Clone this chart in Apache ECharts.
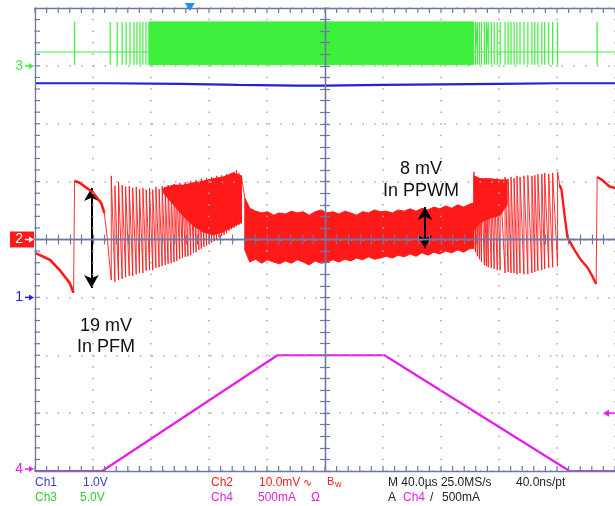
<!DOCTYPE html>
<html><head><meta charset="utf-8">
<script src="https://cdn.jsdelivr.net/npm/echarts@6/dist/echarts.min.js"></script>
<style>html,body{margin:0;padding:0;background:#fff}#c{width:615px;height:506px}</style>
</head><body><div id="c"></div>
<script>
// ---------- DATA (time in µs; Ch1/Ch3 in V; Ch2 in mV; Ch4 in mA) ----------
// Ch1 (blue, 1.0 V/div)
const ch1T = [-200, -150, -100, -60, -20, 0, 40, 80, 120, 160, 200];
const ch1V = [3.70, 3.70, 3.69, 3.67, 3.66, 3.66, 3.67, 3.68, 3.69, 3.70, 3.70];
// Ch4 (magenta, 500 mA/div) load current
const ch4T = [-200, -153.6, -32.8, 41.0, 168.6, 200];
const ch4I = [0, 0, 1000, 1000, 0, 0];
// Ch3 (green, 5.0 V/div) switch node
const ch3Levels = [1.2, 3.8, 0.1];            // idle, high, low
const ch3PulseT = [-172.7, -148.1, -143.3, -139.9, -137.2, -134.5, -131.7, -129.7, -127.6, -125.6, -123.5,
  103.8, 105.1, 106.5, 107.9, 109.9, 111.3, 112.6, 114.7, 116.7, 118.8, 120.8, 124.2, 126.3, 128.3, 130.4,
  132.4, 134.5, 137.2, 139.9, 142.7, 144.7, 146.8, 149.5, 151.5, 154.3, 157.0, 160.4, 187.7];
const ch3BurstT = [-121.5, 102.4];            // continuous switching
// Ch2 (red, 10.0 mV/div) output ripple
const redPreT = [-200, -189.8, -182.9, -176.1, -173.4];
const redPreV = [-2.3, -3.5, -5.3, -7.5, -9.2];
const redJumpT = [-172.7, -169.3, -160.4, -154.3, -152.2, -150.2, -148.8];
const redJumpV = [10.1, 9.8, 8.2, 6.3, 4.6, 0.3, -3.5];
const redLSpikeT = [-147.4, -144.9, -142.4, -139.9, -137.5, -135.0, -132.6, -130.2, -127.9, -125.6,
  -123.3, -121.0, -118.8, -116.6, -114.4, -112.3, -110.2, -108.2, -106.1, -104.1,
  -102.2, -100.2, -98.3, -96.4, -94.5, -92.6, -90.7, -88.9, -87.0, -85.3,
  -83.5, -81.7, -79.9, -78.2, -76.5, -74.7, -73.0, -71.3, -69.6, -67.9,
  -66.2, -64.5, -62.8, -61.1, -59.4, -57.7];
const redLSpikeTop = [11.0, 9.3, 9.9, 9.4, 9.1, 9.2, 8.9, 9.1, 8.7, 8.9,
  8.6, 8.9, 8.6, 9.1, 8.7, 9.2, 8.9, 9.4, 9.1, 9.6,
  9.2, 9.8, 9.4, 9.9, 9.6, 10.1, 9.8, 10.3, 9.9, 10.5,
  10.1, 10.6, 10.3, 10.8, 10.5, 11.0, 10.6, 11.1, 10.8, 11.3,
  11.0, 11.5, 11.7, 12.0, 11.5, 11.0];
const redLSpikeBot = [-7.0, -7.3, -7.0, -6.8, -6.5, -6.3, -6.3, -6.0, -5.8, -5.8,
  -5.4, -5.3, -5.3, -4.9, -4.8, -4.6, -4.4, -4.2, -4.1, -3.9,
  -3.7, -3.4, -3.2, -3.0, -2.9, -2.7, -2.3, -2.2, -1.8, -1.6,
  -1.3, -1.1, -0.8, -0.6, -0.3, -0.1, 0.3, 0.6, 0.8, 1.1,
  1.5, 1.8, 2.0, 2.3, 2.5, 2.7];
const redLDenseT = [-111.3, -104.4, -97.6, -90.8, -84.0, -77.2, -70.3, -63.5, -57.7];
const redLDenseHi = [8.9, 9.4, 9.4, 9.8, 10.1, 10.5, 10.8, 11.5, 11.0];
const redLDenseLo = [8.0, 6.0, 4.0, 2.4, 1.3, 0.8, 1.3, 2.2, 3.0];
const redPwmT = [-55.3, -51.9, -47.8, -43.7, -39.6, -35.5, -31.4, -27.3, -23.2, -19.1,
  -15.0, -10.9, -6.8, -2.7, 1.4, 5.5, 9.6, 13.7, 17.7, 21.8,
  25.9, 30.0, 34.1, 38.2, 42.3, 46.4, 50.5, 54.6, 58.7, 62.8,
  66.9, 71.0, 75.1, 79.2, 83.3, 87.4, 91.5, 95.6, 99.7, 102.4];
const redPwmHi = [7.2, 5.4, 4.9, 4.6, 4.8, 4.2, 4.6, 4.4, 4.9, 4.6,
  4.8, 4.2, 4.8, 5.1, 4.6, 4.8, 4.4, 4.9, 4.6, 4.2,
  4.8, 4.6, 5.1, 4.8, 4.9, 4.6, 5.1, 4.9, 5.3, 4.9,
  5.4, 5.1, 5.6, 5.3, 5.8, 5.4, 6.0, 5.6, 6.1, 6.3];
const redPwmLo = [-1.8, -3.9, -3.4, -4.1, -3.5, -3.9, -4.2, -3.7, -4.1, -3.5,
  -3.9, -4.4, -3.7, -4.1, -3.9, -3.5, -3.9, -3.4, -3.7, -3.2,
  -3.5, -3.0, -3.4, -3.2, -2.9, -3.2, -2.7, -3.0, -2.5, -2.9,
  -2.3, -2.7, -2.2, -2.5, -2.0, -2.3, -1.8, -2.2, -1.6, -1.5];
const redRSpikeT = [102.7, 103.8, 105.1, 106.5, 107.9, 109.9, 111.3, 112.6, 114.7, 116.7,
  118.8, 120.8, 124.2, 126.3, 128.3, 130.4, 132.4, 134.5, 137.2, 139.9,
  142.7, 144.7, 146.8, 149.5, 151.5, 154.3, 157.0, 160.4];
const redRSpikeTop = [11.7, 10.3, 10.6, 10.1, 10.5, 10.3, 10.6, 10.1, 10.5, 10.3,
  10.6, 10.3, 10.8, 10.5, 10.8, 10.6, 11.0, 10.8, 11.0, 11.1,
  11.0, 11.1, 11.3, 11.3, 11.5, 11.3, 11.5, 11.7];
const redRSpikeBot = [-1.8, -2.2, -2.9, -3.4, -3.9, -4.4, -4.6, -4.8, -4.9, -5.1,
  -5.3, -5.3, -5.8, -5.6, -5.8, -5.8, -6.0, -5.8, -6.0, -6.0,
  -5.8, -5.6, -5.4, -5.3, -5.1, -4.9, -4.8, -4.6];
const redRDenseT = [102.7, 107.2, 114.0, 120.8, 125.6];
const redRDenseHi = [11.0, 10.5, 10.5, 10.3, 10.3];
const redRDenseLo = [1.6, 3.0, 3.7, 4.2, 6.0];
const redTailT = [161.8, 163.1, 165.2, 167.2, 172.0, 176.1, 180.9, 184.3, 187.0];
const redTailV = [9.4, 8.6, 4.2, 0.4, -1.8, -3.4, -4.8, -6.3, -7.7];
const redNextT = [187.7, 191.1, 195.9, 200];
const redNextV = [10.8, 10.3, 9.2, 8.9];
// annotations: ripple measurement arrows [time, top mV, bottom mV]
const pfmArrow = [-161.1, 8.9, -8.4];
const pwmArrow = [68.9, 5.6, -1.5];
// trigger: Ch4 rising through 500 mA
const trigger = [-93.2, 500];
// scope read-out
const readRow1 = [['Ch1', '#3a3acc', 35], ['1.0V', '#3a3acc', 83], ['Ch2', '#ee2222', 211], ['10.0mV', '#ee2222', 259],
  ['M 40.0µs 25.0MS/s', '#222', 388], ['40.0ns/pt', '#222', 516]];
const readRow2 = [['Ch3', '#2ecc2e', 35], ['5.0V', '#2ecc2e', 80], ['Ch4', '#dd22dd', 211], ['500mA', '#dd22dd', 258],
  ['Ω', '#dd22dd', 311], ['A', '#222', 388], ['Ch4', '#dd22dd', 403], ['/', '#222', 430], ['500mA', '#222', 442]];

// ---------- build ----------
const zip = (a, b) => a.map((v, i) => [v, b[i]]);
const greenData = [[-200, ch3Levels[0]]];
ch3PulseT.forEach(t => greenData.push([t, ch3Levels[0]], [t, ch3Levels[1]], [t, ch3Levels[2]], [t, ch3Levels[0]]));
greenData.push([200, ch3Levels[0]]);

const redLeft = zip(redPreT, redPreV).concat(zip(redJumpT, redJumpV));
redLSpikeT.forEach((t, i) => redLeft.push([t, redLSpikeBot[i]], [t, redLSpikeTop[i]]));
redLeft.push([redPwmT[0], redPwmHi[0]]);
const redRight = [];
redRSpikeT.forEach((t, i) => redRight.push([t, redRSpikeBot[i]], [t, redRSpikeTop[i]]));
redRight.push(...zip(redTailT, redTailV), ...zip(redNextT, redNextV));

const RED = '#ff1a1a', GREEN = '#3cf03c', BLUE = '#2323cc', MAG = '#e61ee6';
const AX = '#6f77a3';
const Y_CH1 = 3, Y_CH2 = 4, Y_CH3 = 5, Y_CH4 = 6;

function band(ts, hi, lo, yIdx, color, z) {
  return {
    type: 'custom', xAxisIndex: 0, yAxisIndex: yIdx, z: z || 3, silent: true,
    data: [[ts[0], hi[0]]],
    renderItem: function (params, api) {
      const pts = [];
      for (let i = 0; i < ts.length; i++) pts.push(api.coord([ts[i], hi[i]]));
      for (let i = ts.length - 1; i >= 0; i--) pts.push(api.coord([ts[i], lo[i]]));
      return { type: 'polygon', shape: { points: pts }, style: { fill: color, stroke: color, lineWidth: 1 } };
    }
  };
}
function lineS(data, yIdx, color, width, z, opacity) {
  return { type: 'line', xAxisIndex: 0, yAxisIndex: yIdx, data: data, showSymbol: false, symbol: 'none',
    silent: true, z: z || 3, lineStyle: { color: color, width: width, opacity: opacity == null ? 1 : opacity } };
}
const tickStyle = { color: AX, width: 1.2 };
const dotX = { color: '#a8a8a8', width: 1.5, type: [1.5, 10.08], dashOffset: 0.75 };
const dotY = { color: '#a8a8a8', width: 1.5, type: [1.5, 10.22], dashOffset: 0.75 };
const X = { min: -200, max: 200, interval: 40 };
const Yd = { min: -4, max: 4, interval: 1 };
function centre(base, pos, inside) {
  return Object.assign({ type: 'value', position: pos, z: 10,
    axisLine: { show: true, onZero: true, onZeroAxisIndex: 0, lineStyle: { color: AX, width: 1.3 } },
    axisTick: { show: true, inside: inside, length: 5, lineStyle: tickStyle },
    minorTick: { show: true, splitNumber: 5, length: 5, lineStyle: tickStyle },
    axisLabel: { show: false }, splitLine: { show: false }, minorSplitLine: { show: false } }, base);
}
function border(base, pos, split, dot) {
  return Object.assign({ type: 'value', position: pos, z: 10,
    axisLine: { show: true, onZero: false, lineStyle: { color: AX, width: 1.3 } },
    axisTick: { show: false }, axisLabel: { show: false },
    splitLine: { show: split, lineStyle: dot } }, base);
}
const hid = (min, max) => ({ type: 'value', min: min, max: max, show: false, splitLine: { show: false } });

// border tick marks: one per minor division, placed through the division scales
const xTickVals = [], yTickVals = [];
for (let v = X.min; v <= X.max; v += X.interval / 5) xTickVals.push([v, 0]);
for (let v = Yd.min; v <= Yd.max; v += Yd.interval / 5) yTickVals.push([0, v]);
function tickSeries(vals, horiz) {
  return { type: 'custom', xAxisIndex: 0, yAxisIndex: 0, z: 10, silent: true, clip: false,
    data: vals,
    renderItem: function (params, api) {
      const v = api.value(horiz ? 0 : 1);
      const ch = [];
      if (horiz) {
        const pb = api.coord([v, Yd.min]), pt = api.coord([v, Yd.max]);
        ch.push({ type: 'line', shape: { x1: pb[0], y1: pb[1], x2: pb[0], y2: pb[1] - 5 }, style: { stroke: AX, lineWidth: 1.2 } });
        ch.push({ type: 'line', shape: { x1: pt[0], y1: pt[1], x2: pt[0], y2: pt[1] + 5 }, style: { stroke: AX, lineWidth: 1.2 } });
      } else {
        const pl = api.coord([X.min, v]);
        ch.push({ type: 'line', shape: { x1: pl[0], y1: pl[1], x2: pl[0] + 5, y2: pl[1] }, style: { stroke: AX, lineWidth: 1.2 } });
      }
      return { type: 'group', children: ch };
    } };
}

const option = {
  animation: false,
  backgroundColor: '#fff',
  grid: { left: 35, top: 8, right: -6, bottom: 35, containLabel: false },
  xAxis: [ border(X, 'bottom', true, dotX), border(X, 'top', false), centre(X, 'bottom', true), centre(X, 'bottom', false) ],
  yAxis: [ border(Yd, 'left', true, dotY), centre(Yd, 'left', true), centre(Yd, 'left', false),
           hid(-3, 5), hid(-40, 40), hid(-35, 5), hid(0, 4000) ],
  series: [
    lineS(zip(ch1T, ch1V), Y_CH1, BLUE, 2.2, 3),
    lineS(greenData, Y_CH3, GREEN, 1.2, 3),
    band(ch3BurstT, [ch3Levels[1], ch3Levels[1]], [ch3Levels[2], ch3Levels[2]], Y_CH3, GREEN, 3),
    lineS(redLeft, Y_CH2, RED, 1, 4, 0.9),
    lineS(redRight, Y_CH2, RED, 1, 4, 0.9),
    band(redLDenseT, redLDenseHi, redLDenseLo, Y_CH2, RED, 4),
    band(redPwmT, redPwmHi, redPwmLo, Y_CH2, RED, 4),
    band(redRDenseT, redRDenseHi, redRDenseLo, Y_CH2, RED, 4),
    lineS(zip(redPreT, redPreV), Y_CH2, RED, 2.6, 5),
    lineS(zip(redJumpT.slice(0, 5), redJumpV.slice(0, 5)), Y_CH2, RED, 2.6, 5),
    lineS(zip(redTailT, redTailV), Y_CH2, RED, 2.4, 5),
    lineS(zip(redNextT, redNextV), Y_CH2, RED, 2.4, 5),
    lineS(zip(ch4T, ch4I), Y_CH4, MAG, 2.2, 6),
    tickSeries(xTickVals, true),
    tickSeries(yTickVals, false),
    { type: 'line', xAxisIndex: 0, yAxisIndex: Y_CH2, data: [], z: 20, silent: true, symbol: 'none',
      markLine: { silent: true, symbol: ['arrow', 'arrow'], symbolSize: [11, 13], label: { show: false },
        lineStyle: { color: '#000', width: 2, type: 'solid' },
        data: [[{ coord: [pfmArrow[0], pfmArrow[1]] }, { coord: [pfmArrow[0], pfmArrow[2]] }],
               [{ coord: [pwmArrow[0], pwmArrow[1]] }, { coord: [pwmArrow[0], pwmArrow[2]] }]] } }
  ]
};
const chart = echarts.init(document.getElementById('c'), null, { renderer: 'canvas' });
chart.setOption(option);

// ----- decorations: channel ground markers, trigger markers, annotations, read-out -----
const FONT = '"Liberation Sans", Arial, sans-serif';
const g = [];
function gndMarker(y, label, color, boxed) {
  if (boxed) g.push({ type: 'rect', shape: { x: 10, y: y - 8, width: 24, height: 16 }, style: { fill: color }, z: 30 });
  const c = boxed ? '#fff' : color;
  g.push({ type: 'text', x: 23, y: y, z: 31, style: { text: label, fill: c, font: '14px ' + FONT, align: 'right', textAlign: 'right', verticalAlign: 'middle', textVerticalAlign: 'middle' } });
  g.push({ type: 'line', shape: { x1: 25, y1: y, x2: 30, y2: y }, style: { stroke: c, lineWidth: 1.5 }, z: 31 });
  g.push({ type: 'polygon', shape: { points: [[34, y], [29, y - 3], [29, y + 3]] }, style: { fill: c }, z: 31 });
}
gndMarker(chart.convertToPixel({ yAxisIndex: Y_CH3 }, 0), '3', GREEN, false);
gndMarker(chart.convertToPixel({ yAxisIndex: Y_CH2 }, 0), '2', RED, true);
gndMarker(chart.convertToPixel({ yAxisIndex: Y_CH1 }, 0), '1', BLUE, false);
gndMarker(chart.convertToPixel({ yAxisIndex: Y_CH4 }, 0) - 2, '4', MAG, false);
const ty = chart.convertToPixel({ yAxisIndex: Y_CH4 }, trigger[1]);
g.push({ type: 'line', shape: { x1: 607, y1: ty, x2: 615, y2: ty }, style: { stroke: MAG, lineWidth: 1.5 }, z: 31 });
g.push({ type: 'polygon', shape: { points: [[603, ty], [609, ty - 3.5], [609, ty + 3.5]] }, style: { fill: MAG }, z: 31 });
const tx = chart.convertToPixel({ xAxisIndex: 0 }, trigger[0]);
g.push({ type: 'polygon', shape: { points: [[tx - 5, 3], [tx + 5, 3], [tx, 11]] }, style: { fill: '#2a8fe0' }, z: 31 });
function txt(s, x, y, color, font, align) {
  g.push({ type: 'text', x: x, y: y, z: 32, style: { text: s, fill: color, font: font, align: align || 'left', textAlign: align || 'left', verticalAlign: 'middle', textVerticalAlign: 'middle' } });
}
const AF = '18px ' + FONT;
txt('8 mV', 421, 169, '#111', AF, 'center');
txt('In PPWM', 421, 191, '#111', AF, 'center');
txt('19 mV', 106, 326, '#111', AF, 'center');
txt('In PFM', 106, 347, '#111', AF, 'center');
const RF = '12px ' + FONT;
readRow1.forEach(r => txt(r[0], r[2], 483, r[1], RF));
readRow2.forEach(r => txt(r[0], r[2], 498, r[1], RF));
txt('∿', 303, 483, '#ee2222', '11px "DejaVu Sans"');
txt('B', 327, 482, '#ee2222', '11px ' + FONT);
txt('w', 335, 485, '#ee2222', '9px ' + FONT);
chart.setOption({ graphic: g });
</script></body></html>
